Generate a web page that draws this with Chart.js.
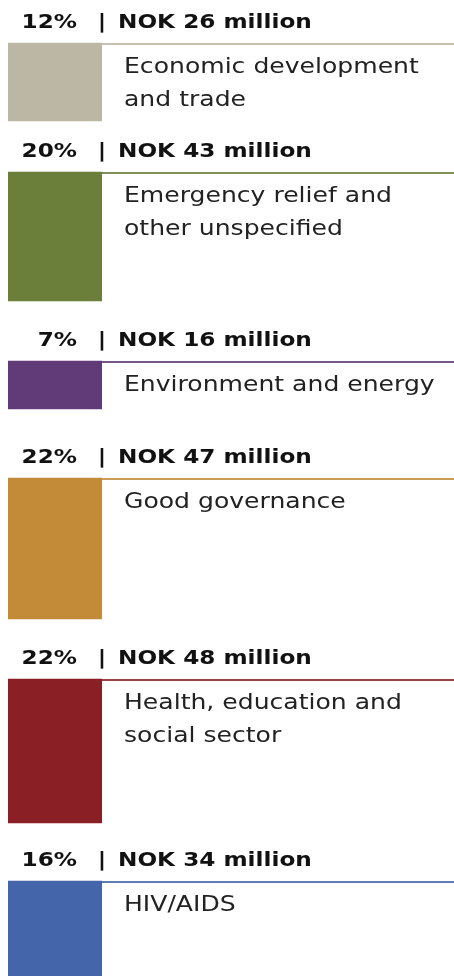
<!DOCTYPE html>
<html>
<head>
<meta charset="utf-8">
<title>Allocation by sector</title>
<script src="https://cdn.jsdelivr.net/npm/chart.js"></script>
<style>
  html, body { margin: 0; padding: 0; background: #ffffff; }
  #wrap { position: relative; width: 454px; height: 976px; }
</style>
</head>
<body>
<div id="wrap"><canvas id="sectors"></canvas></div>
<script>
  // sectors, top to bottom
  const categories = [
    ['Economic development', 'and trade'],
    ['Emergency relief and', 'other unspecified'],
    ['Environment and energy'],
    ['Good governance'],
    ['Health, education and', 'social sector'],
    ['HIV/AIDS']
  ];
  const shares = [12, 20, 7, 22, 22, 16];      // percent
  const amounts = [26, 43, 16, 47, 48, 34];    // NOK million
  const colors = ['#bcb6a4', '#6b7e3a', '#613a78', '#c38a37', '#8a1f25', '#4465a9'];

  // layout
  const PX_PER_MILLION = 3;
  const CANVAS_H = 976;
  const GAP_BEFORE = [43, 51, 60, 69, 60, 58]; // px of header room above each bar

  // each bar floats on the y axis (units = NOK million), stacked downward
  var cursor = 0;
  const ranges = amounts.map(function(v, i) {
    cursor += GAP_BEFORE[i] / PX_PER_MILLION;
    var r = [cursor, cursor + v];
    cursor += v;
    return r;
  });

  const datasets = amounts.map(function(v, i) {
    return {
      label: categories[i].join(' '),
      data: [ranges[i]],
      backgroundColor: colors[i],
      borderWidth: 0,
      grouped: false,
      barPercentage: 1,
      categoryPercentage: 1
    };
  });

  // header, rule and label text for every bar
  const annotate = {
    id: 'annotate',
    afterDatasetsDraw: function(chart) {
      var ctx = chart.ctx;
      var W = chart.width;
      chart.data.datasets.forEach(function(ds, i) {
        var bar = chart.getDatasetMeta(i).data[0];
        var top = Math.min(bar.y, bar.base);
        var left = bar.x - bar.width / 2;
        var right = bar.x + bar.width / 2;

        ctx.save();
        // thin rule from the bar top to the right edge
        ctx.strokeStyle = colors[i];
        ctx.globalAlpha = 0.85;
        ctx.lineWidth = 2;
        ctx.beginPath();
        ctx.moveTo(right, top + 1);
        ctx.lineTo(W, top + 1);
        ctx.stroke();
        ctx.globalAlpha = 1;

        // "12%  | NOK 26 million"
        var hy = top - 15;
        ctx.fillStyle = '#111111';
        ctx.font = 'bold 19px "DejaVu Sans"';
        ctx.textBaseline = 'alphabetic';

        ctx.save();
        ctx.translate(77, hy);
        ctx.scale(1.22, 1);
        ctx.textAlign = 'right';
        ctx.fillText(shares[i] + '%', 0, 0);
        ctx.restore();

        ctx.save();
        ctx.translate(102, hy);
        ctx.scale(1.22, 1);
        ctx.textAlign = 'center';
        ctx.fillText('|', 0, 0);
        ctx.restore();

        ctx.save();
        ctx.translate(118, hy);
        ctx.scale(1.22, 1);
        ctx.textAlign = 'left';
        ctx.fillText('NOK ' + amounts[i] + ' million', 0, 0);
        ctx.restore();

        // sector name next to the bar
        ctx.fillStyle = '#222222';
        ctx.font = '22px "DejaVu Sans"';
        categories[i].forEach(function(line, j) {
          ctx.save();
          ctx.translate(124, top + 30 + j * 33);
          ctx.scale(1.14, 1);
          ctx.textAlign = 'left';
          ctx.fillText(line, 0, 0);
          ctx.restore();
        });
        ctx.restore();
      });
    }
  };

  const chart = new Chart(document.getElementById('sectors'), {
    type: 'bar',
    data: {
      labels: [''],
      datasets: datasets
    },
    options: {
      responsive: true,
      maintainAspectRatio: false,
      animation: false,
      layout: {
        padding: { left: 8, right: 352, top: 0, bottom: 0 }
      },
      scales: {
        x: { display: false },
        y: {
          display: false,
          reverse: true,
          min: 0,
          max: CANVAS_H / PX_PER_MILLION
        }
      },
      plugins: {
        legend: { display: false },
        tooltip: { enabled: false }
      }
    },
    plugins: [annotate]
  });
</script>
</body>
</html>
